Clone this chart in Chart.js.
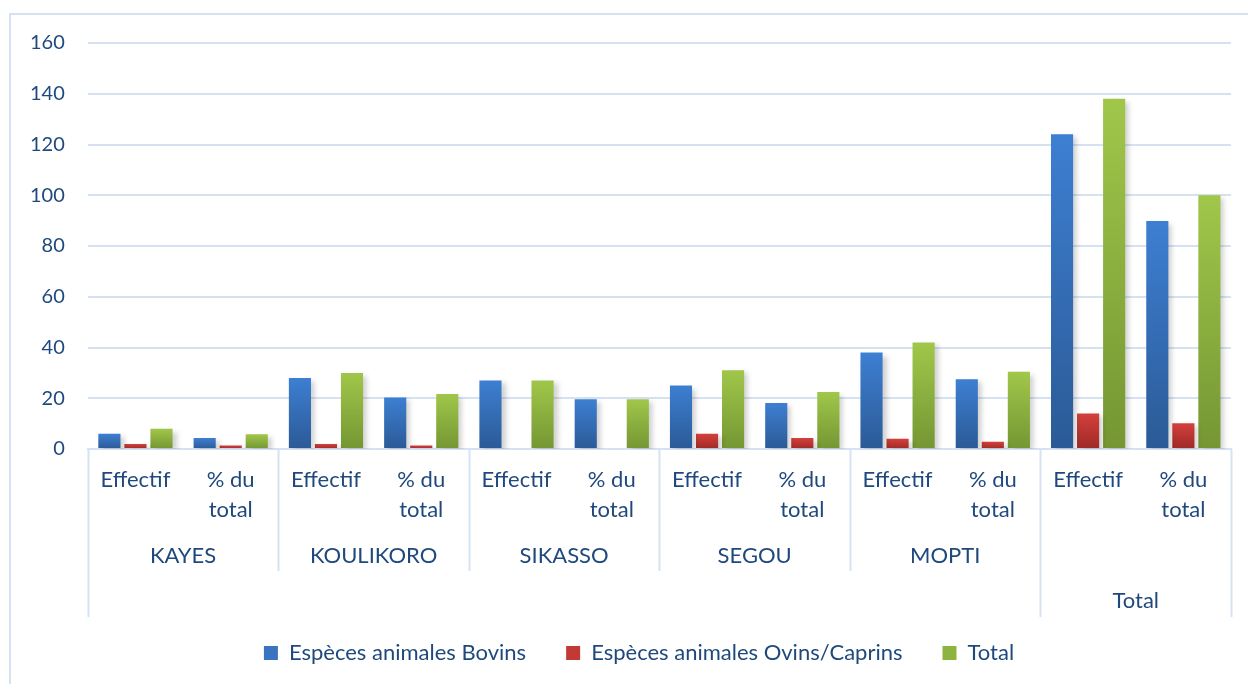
<!DOCTYPE html>
<html>
<head>
<meta charset="utf-8">
<script src="https://cdn.jsdelivr.net/npm/chart.js@4"></script>
<style>
  html, body { margin: 0; padding: 0; background: #fff; }
  #wrap { width: 1248px; height: 684px; }
</style>
</head>
<body>
<div id="wrap"><canvas id="chart"></canvas></div>
<script>
const groups = ['KAYES', 'KOULIKORO', 'SIKASSO', 'SEGOU', 'MOPTI', 'Total'];
const subLabels = [['Effectif'], ['% du', 'total']];
const bovins = [6, 4.3, 28, 20.3, 27, 19.6, 25, 18.1, 38, 27.5, 124, 89.9];
const ovins = [2, 1.4, 2, 1.4, 0, 0, 6, 4.3, 4, 2.9, 14, 10.1];
const totaux = [8, 5.8, 30, 21.7, 27, 19.6, 31, 22.5, 42, 30.4, 138, 100];
const yTicks = [0, 20, 40, 60, 80, 100, 120, 140, 160];

const textColor = '#1f497d';
const lineColor = '#d6e2f2';
const font = 'Lato, Calibri, "Liberation Sans", sans-serif';
const fs = 22;

const labels = [];
groups.forEach(() => subLabels.forEach(s => labels.push(s)));

// gradient per bar: light at the top, dark at the base
const grad = (light, dark) => (ctx) => {
    const chart = ctx.chart;
    if (!chart.chartArea || ctx.type !== 'data') return light;
    const y = chart.scales.y;
    const top = y.getPixelForValue(ctx.raw);
    const base = y.getPixelForValue(0);
    if (!(base - top > 1)) return dark;
    const g = chart.ctx.createLinearGradient(0, top, 0, base);
    g.addColorStop(0, light);
    g.addColorStop(1, dark);
    return g;
};

const series = [
    { label: 'Espèces animales Bovins', data: bovins, light: '#3d7fd2', dark: '#2b5a96', solid: '#3a74c0' },
    { label: 'Espèces animales Ovins/Caprins', data: ovins, light: '#d4403c', dark: '#9e2a27', solid: '#c13a36' },
    { label: 'Total', data: totaux, light: '#a0c74a', dark: '#759633', solid: '#8db43f' }
];

const shadow = {
    id: 'shadow',
    beforeDatasetsDraw(chart) {
        const c = chart.ctx;
        c.save();
        c.shadowColor = 'rgba(0,0,0,0.18)';
        c.shadowBlur = 5;
        c.shadowOffsetX = 4;
        c.shadowOffsetY = 3;
    },
    afterDatasetsDraw(chart) {
        chart.ctx.restore();
    }
};

// outer frame, group separators and group names under the axis
const groupAxis = {
    id: 'groupAxis',
    afterLayout(chart) {
        // legend sits a bit right of centre in the original
        chart.legend.left += 20;
        chart.legend.right += 20;
    },
    beforeDraw(chart) {
        const c = chart.ctx;
        c.save();
        c.strokeStyle = lineColor;
        c.lineWidth = 2;
        c.beginPath();
        c.moveTo(10, 684);
        c.lineTo(10, 14);
        c.lineTo(1248, 14);
        c.stroke();
        c.restore();
    },
    afterDraw(chart) {
        const c = chart.ctx;
        const x = chart.scales.x;
        const bottom = chart.chartArea.bottom;
        const w = (x.right - x.left) / labels.length;
        c.save();
        c.strokeStyle = lineColor;
        c.lineWidth = 2;
        for (let i = 0; i <= groups.length; i++) {
            const px = Math.round(x.left + i * 2 * w) + 0.5;
            const end = (i === 0 || i >= groups.length - 1) ? bottom + 168 : bottom + 122;
            c.beginPath();
            c.moveTo(px, bottom);
            c.lineTo(px, end);
            c.stroke();
        }
        c.fillStyle = textColor;
        c.font = fs + 'px ' + font;
        c.textAlign = 'center';
        c.textBaseline = 'middle';
        groups.forEach((g, i) => {
            const cx = (x.getPixelForValue(2 * i) + x.getPixelForValue(2 * i + 1)) / 2;
            const cy = i === groups.length - 1 ? bottom + 152 : bottom + 107;
            c.fillText(g, cx, cy);
        });
        c.restore();
    }
};

new Chart(document.getElementById('chart'), {
    type: 'bar',
    data: {
        labels,
        datasets: series.map(s => ({
            label: s.label,
            data: s.data,
            backgroundColor: grad(s.light, s.dark),
            borderWidth: 0,
            categoryPercentage: 0.82,
            barPercentage: 0.85,
            solid: s.solid
        }))
    },
    options: {
        responsive: true,
        maintainAspectRatio: false,
        animation: false,
        layout: { padding: { left: 7, right: 17, top: 43, bottom: 10 } },
        scales: {
            x: {
                grid: { display: false },
                border: { display: true, color: lineColor, width: 2 },
                ticks: {
                    color: textColor,
                    font: { family: font, size: fs, lineHeight: 1.37 },
                    padding: 8,
                    maxRotation: 0,
                    autoSkip: false
                },
                afterFit(scale) { scale.height = 153; }
            },
            y: {
                min: 0,
                max: 160,
                afterBuildTicks(scale) { scale.ticks = yTicks.map(v => ({ value: v })); },
                grid: { color: lineColor, lineWidth: 2, drawTicks: false },
                border: { display: false },
                ticks: {
                    color: textColor,
                    font: { family: font, size: 20 },
                    padding: 23
                }
            }
        },
        plugins: {
            legend: {
                position: 'bottom',
                labels: {
                    color: textColor,
                    font: { family: font, size: fs },
                    boxWidth: 14,
                    boxHeight: 14,
                    padding: 40,
                    generateLabels(chart) {
                        return chart.data.datasets.map((d, i) => ({
                            text: d.label,
                            fillStyle: d.solid,
                            strokeStyle: d.solid,
                            lineWidth: 0,
                            fontColor: textColor,
                            hidden: false,
                            datasetIndex: i
                        }));
                    }
                }
            },
            tooltip: { enabled: false }
        }
    },
    plugins: [shadow, groupAxis]
});
</script>
</body>
</html>
